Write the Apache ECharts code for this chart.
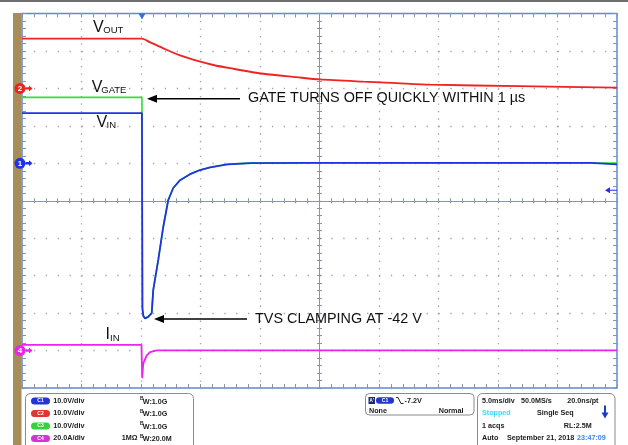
<!DOCTYPE html>
<html>
<head>
<meta charset="utf-8">
<script src="https://cdn.jsdelivr.net/npm/echarts@6/dist/echarts.min.js"></script>
<style>
html,body{margin:0;padding:0;background:#fff;}
#c{width:628px;height:445px;}
</style>
</head>
<body>
<div id="c"></div>
<script>
// ---- data: [time in ms relative to trigger, value in channel units] ----
const vinData = [[-10,13.4],[0.08,13.4],[0.12,-38.8],[0.2,-40.8],[0.34,-41.4],[0.6,-41.0],[0.9,-40.0],[1.03,-33.8],[1.45,-25.8],[1.87,-17.0],[2.29,-9.8],[2.71,-6.6],[3.28,-4.5],[4.12,-2.9],[4.96,-1.8],[5.8,-1.1],[7.23,-0.3],[9.16,0.05],[14,0.1],[25,0.1],[37.8,0.1],[37.9,-0.4],[40,-0.3]];
const vgateData = [[-10,17.6],[0.08,17.6],[0.12,-38.8],[0.2,-40.8],[0.34,-41.4],[0.6,-41.0],[0.9,-40.0],[1.03,-33.8],[1.45,-25.8],[1.87,-17.0],[2.29,-9.8],[2.71,-6.6],[3.28,-4.5],[4.12,-2.9],[4.96,-1.8],[5.8,-1.1],[7.23,-0.3],[9.16,0.05],[14,0.1],[25,0.1],[37.8,0.1],[40,0.1]];
const voutData = [[-10,13.3],[0.08,13.3],[0.76,12.3],[1.87,10.7],[3.28,8.8],[4.68,7.4],[6.08,6.25],[7.48,5.4],[10.28,3.9],[13.08,3.0],[15.04,2.4],[18.68,1.8],[21.49,1.4],[24.29,1.0],[31.85,0.6],[40,0.2]];
const iinData = [[-10,3.0],[0.04,3.0],[0.06,2.4],[0.1,-14.7],[0.19,-6.8],[0.48,-2.6],[0.76,-0.8],[1.32,0.1],[40,0.1]];

// channel settings: offset in divisions, units per division
const chOffsets = [1, 3, 1, -4];
const chPerDiv = [10, 10, 10, 20];
const chNames = ['C1','C2','C3','C4'];
const chScaleLabels = ['10.0V/div','10.0V/div','10.0V/div','20.0A/div'];
const chBandwidth = ['1.0G','1.0G','1.0G','20.0M'];
const chTermination = ['','','','1MΩ'];
const TRIGGER_LEVEL = -7.2;
const TRIGGER_TIME = 0.08;
const TIME_MIN = -10, TIME_MAX = 40, TIME_STEP = 5;

const colors = {c1:'#1f33e6', c2:'#f02222', c3:'#2ee22e', c4:'#ee22ee'};
const pillColors = ['#2335d6','#e23434','#33d43a','#d633d6'];
const dotColor = '#a2a2a2';
const tickGray = '#8a93ad';
const FONT = '"Liberation Sans", Arial, sans-serif';

function divAxis(extra) {
  return Object.assign({
    type:'value', min:-5, max:5, interval:1,
    axisLabel:{show:false}, splitLine:{show:false},
    axisLine:{show:false, onZero:false},
    axisTick:{show:false}, minorTick:{show:false}
  }, extra);
}
function tickSet(inside, len) {
  return {
    axisTick:{show:true, inside:inside, length:len, lineStyle:{color:tickGray, width:1}},
    minorTick:{show:true, splitNumber:5, length:len, lineStyle:{color:tickGray, width:1}}
  };
}
function chAxis(i) {
  return {type:'value', show:false, min:(-5-chOffsets[i])*chPerDiv[i], max:(5-chOffsets[i])*chPerDiv[i],
          axisLine:{onZero:false}, splitLine:{show:false}};
}
const rightArrow = 'path://M0,3 L5,3 L5,0 L10,5 L5,10 L5,7 L0,7 Z';
function chMarker(num, color) {
  return [
    {coord:[TIME_MIN,0], symbol:'circle', symbolSize:11, symbolOffset:[-2,0],
     itemStyle:{color:color}, label:{show:true, formatter:num, color:'#fff', fontSize:8, fontWeight:'bold', fontFamily:FONT}},
    {coord:[TIME_MIN,0], symbol:rightArrow, symbolSize:[7,6], symbolOffset:[7,0],
     itemStyle:{color:color}, label:{show:false}}
  ];
}

const chart = echarts.init(document.getElementById('c'));

function txt(x, y, text, size, extra) {
  return {type:'text', x:x, y:y, z:100,
    style:Object.assign({text:text, fontSize:size, fontFamily:FONT, fill:'#111', align:'left', verticalAlign:'middle'}, extra||{})};
}
const g = [];
// frame decorations
g.push({type:'rect', z:1, shape:{x:0,y:0,width:628,height:2}, style:{fill:'#6e6e6e'}});
g.push({type:'rect', z:1, shape:{x:13,y:13,width:8.5,height:432}, style:{fill:'#a68d5a'}});
// annotations
g.push(txt(93,27.8,'V',16)); g.push(txt(103.3,30.8,'OUT',9.5));
g.push(txt(91.7,87.7,'V',16)); g.push(txt(101.3,90.5,'GATE',9.5));
g.push(txt(96.5,122.5,'V',16)); g.push(txt(106.5,125.3,'IN',9.5));
g.push(txt(105.5,335,'I',16)); g.push(txt(110,338,'IN',9.5));
g.push(txt(248,98.5,'GATE TURNS OFF QUICKLY WITHIN 1 µs',14.4));
g.push(txt(255,319,'TVS CLAMPING AT -42 V',14.4));
g.push({type:'line', z:100, shape:{x1:240,y1:98.7,x2:155,y2:98.7}, style:{stroke:'#000', lineWidth:1.4}});
g.push({type:'polygon', z:100, shape:{points:[[147,98.7],[157,94.7],[157,102.7]]}, style:{fill:'#000'}});
g.push({type:'line', z:100, shape:{x1:247,y1:319,x2:162,y2:319}, style:{stroke:'#000', lineWidth:1.4}});
g.push({type:'polygon', z:100, shape:{points:[[154,319],[164,315],[164,323]]}, style:{fill:'#000'}});

// bottom information panel
const PF = 7.2;
const bold = {fontWeight:'bold', fill:'#1a1a1a'};
g.push({type:'rect', z:50, shape:{x:25.5,y:393.5,width:168,height:62,r:5}, style:{fill:'#fff', stroke:'#8a8a8a', lineWidth:1}});
const rowY = [401, 413.5, 426, 438.5];
for (let i = 0; i < 4; i++) {
  const y = rowY[i];
  g.push({type:'rect', z:60, shape:{x:31,y:y-3.5,width:19,height:7,r:3.5}, style:{fill:pillColors[i]}});
  g.push(txt(40.5,y,chNames[i],5,{fill:'#fff', fontWeight:'bold', align:'center'}));
  g.push(txt(53.3,y,chScaleLabels[i],PF,bold));
  g.push(txt(140,y-2.2,'B',5,bold));
  g.push(txt(142.8,y+0.6,'W:'+chBandwidth[i],PF,bold));
  if (chTermination[i]) g.push(txt(121.7,y,chTermination[i],PF,bold));
}
g.push({type:'rect', z:50, shape:{x:365.5,y:393.5,width:108.5,height:21.5,r:4}, style:{fill:'#fff', stroke:'#8a8a8a', lineWidth:1}});
g.push({type:'rect', z:60, shape:{x:368.5,y:397,width:6.5,height:7}, style:{fill:'#1d2b78'}});
g.push(txt(371.7,400.5,"A'",4.5,{fill:'#fff', fontWeight:'bold', align:'center'}));
g.push({type:'rect', z:60, shape:{x:376,y:397.2,width:18,height:6.6,r:3.3}, style:{fill:pillColors[0]}});
g.push(txt(385,400.5,'C1',5,{fill:'#fff', fontWeight:'bold', align:'center'}));
g.push({type:'polyline', z:60, shape:{points:[[396,397.5],[398,397.5],[401,403.5],[403.5,403.5]]}, style:{stroke:'#222', lineWidth:1, fill:null}});
g.push(txt(404.5,400.7,TRIGGER_LEVEL.toFixed(1)+'V',PF,bold));
g.push(txt(369,410.7,'None',PF,bold));
g.push(txt(463.5,410.7,'Normal',PF,Object.assign({align:'right'},bold)));

g.push({type:'rect', z:50, shape:{x:477.5,y:393.5,width:137.5,height:62,r:5}, style:{fill:'#fff', stroke:'#8a8a8a', lineWidth:1}});
g.push(txt(482,400.7,'5.0ms/div',PF,bold));
g.push(txt(521,400.7,'50.0MS/s',PF,bold));
g.push(txt(598.5,400.7,'20.0ns/pt',PF,Object.assign({align:'right'},bold)));
g.push(txt(482,413,'Stopped',PF,{fontWeight:'bold', fill:'#3ed6f2'}));
g.push(txt(537,413,'Single Seq',PF,bold));
g.push({type:'rect', z:60, shape:{x:604,y:405.5,width:2,height:8}, style:{fill:'#1a3cc4'}});
g.push({type:'polygon', z:60, shape:{points:[[601.5,412.5],[608.5,412.5],[605,418.5]]}, style:{fill:'#1a3cc4'}});
g.push(txt(482,426,'1 acqs',PF,bold));
g.push(txt(591.7,426,'RL:2.5M',PF,Object.assign({align:'right'},bold)));
g.push(txt(482,438.3,'Auto',PF,bold));
g.push(txt(507,438.3,'September 21, 2018',PF,bold));
g.push(txt(577,438.3,'23:47:09',PF,{fontWeight:'bold', fill:'#3a86f0'}));

const option = {
  animation:false,
  backgroundColor:'#ffffff',
  grid:{left:22, right:11, top:13.5, bottom:57, show:true, borderColor:'#5d8ad4', borderWidth:1.5,
        backgroundColor:'#ffffff', containLabel:false, outerBoundsMode:'none'},
  xAxis:[
    {type:'value', min:TIME_MIN, max:TIME_MAX, interval:TIME_STEP, show:false, axisLine:{onZero:false}, splitLine:{show:false}},
    divAxis(Object.assign({
      splitLine:{show:true, lineStyle:{color:dotColor, width:1.3, type:[1.3,6.19]}},
      axisLine:{show:true, onZero:true, onZeroAxisIndex:0, lineStyle:{color:tickGray, width:1}}
    }, tickSet(false,2.5))),
    divAxis(Object.assign({axisLine:{show:false, onZero:true, onZeroAxisIndex:0}}, tickSet(true,2.5))),
    divAxis(Object.assign({position:'bottom'}, tickSet(true,4))),
    divAxis(Object.assign({position:'top'}, tickSet(true,4)))
  ],
  yAxis:[
    divAxis(Object.assign({
      position:'left',
      splitLine:{show:true, lineStyle:{color:dotColor, width:1.3, type:[1.3,10.6]}},
      axisLine:{show:true, onZero:true, onZeroAxisIndex:1, lineStyle:{color:tickGray, width:1}}
    }, tickSet(false,2.5))),
    divAxis(Object.assign({position:'left', axisLine:{show:false, onZero:true, onZeroAxisIndex:1}}, tickSet(true,2.5))),
    divAxis(Object.assign({position:'left'}, tickSet(true,4))),
    divAxis(Object.assign({position:'right'}, tickSet(true,4))),
    chAxis(0), chAxis(1), chAxis(3)
  ],
  series:[
    {name:'VGATE', type:'line', xAxisIndex:0, yAxisIndex:4, data:vgateData, showSymbol:false, symbol:'none',
     lineStyle:{color:colors.c3, width:1.6}, z:3},
    {name:'VIN', type:'line', xAxisIndex:0, yAxisIndex:4, data:vinData, showSymbol:false, symbol:'none',
     lineStyle:{color:colors.c1, width:1.8}, z:4,
     markPoint:{silent:true, label:{show:false}, data:chMarker('1', colors.c1).concat([
       {coord:[TRIGGER_TIME,(5-chOffsets[0])*chPerDiv[0]], symbol:'path://M0,0 L10,0 L5,8 Z', symbolSize:[7,6], symbolOffset:[0,3],
        itemStyle:{color:'#2f72e0'}, label:{show:false}},
       {coord:[TIME_MAX,TRIGGER_LEVEL], symbol:'path://M0,5 L5,0 L5,4 L12,4 L12,6 L5,6 L5,10 Z', symbolSize:[12,6], symbolOffset:[-6,0],
        itemStyle:{color:'#2033e0'}, label:{show:false}}
     ])}},
    {name:'VOUT', type:'line', xAxisIndex:0, yAxisIndex:5, data:voutData, showSymbol:false, symbol:'none', smooth:0.25,
     lineStyle:{color:colors.c2, width:1.9}, z:4,
     markPoint:{silent:true, label:{show:false}, data:chMarker('2', colors.c2)}},
    {name:'IIN', type:'line', xAxisIndex:0, yAxisIndex:6, data:iinData, showSymbol:false, symbol:'none',
     lineStyle:{color:colors.c4, width:1.8}, z:4,
     markPoint:{silent:true, label:{show:false}, data:chMarker('4', colors.c4)}}
  ],
  graphic:{elements:g}
};
chart.setOption(option);
</script>
</body>
</html>
